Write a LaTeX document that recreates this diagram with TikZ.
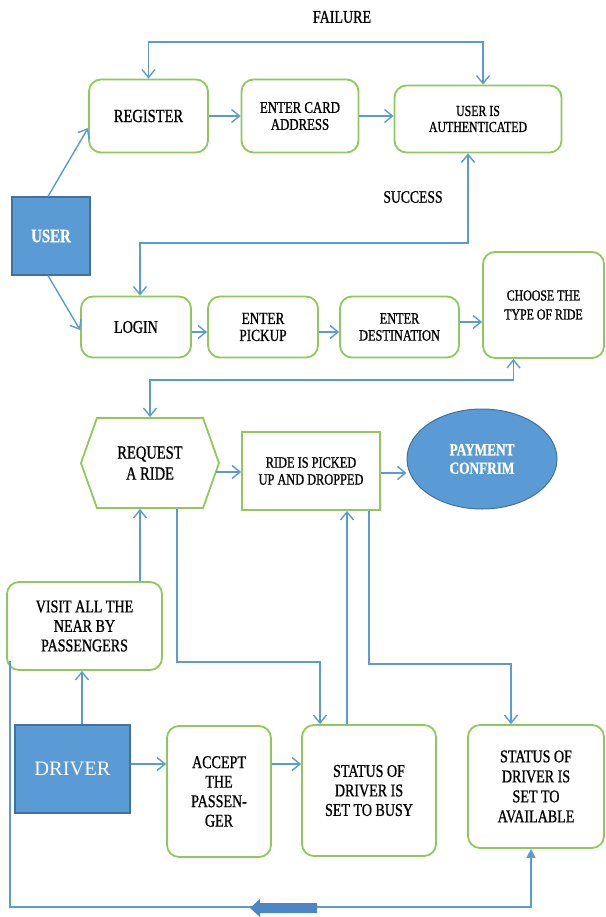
\documentclass[tikz,border=0pt]{standalone}
\usepackage{fontspec}
\setmainfont{Liberation Serif}[FakeStretch=0.78,FakeBold=0.9]
\newfontfamily\plainserif{Liberation Serif}
\usetikzlibrary{arrows.meta,calc,shapes.geometric,shapes.symbols}
\definecolor{lblue}{HTML}{5B9BD5}
\definecolor{dblue}{HTML}{41719C}
\definecolor{bgreen}{HTML}{8FC95A}
\definecolor{barrow}{HTML}{4A86C6}
\newcommand{\fsz}[2]{\fontsize{#1}{#2}\selectfont}
\begin{document}
\begin{tikzpicture}[x=1pt,y=-1pt,
  gbox/.style={draw=bgreen, line width=1.8pt, rounded corners=12pt, fill=white, align=center, inner sep=0pt, text=black},
  rbox/.style={draw=bgreen, line width=1.8pt, fill=white, align=center, inner sep=0pt, text=black},
  bbox/.style={draw=dblue, line width=1.2pt, fill=lblue, text=white, inner sep=0pt, align=center},
  lbl/.style={inner sep=0pt, text=black},
  conn/.style={draw=lblue, line width=1.4pt, -{Straight Barb[length=8pt,width=13pt,line width=1.4pt]}},
  conntwo/.style={draw=lblue, line width=1.4pt, {Straight Barb[length=8pt,width=13pt,line width=1.4pt]}-{Straight Barb[length=8pt,width=13pt,line width=1.4pt]}},
  loopline/.style={draw=lblue, line width=1.4pt, -{Triangle[length=9pt,width=9pt]}}
]
\useasboundingbox (0,0) rectangle (605,917);

% labels
\node[lbl, font=\fsz{18}{19}] (failure) at (342,17) {FAILURE};
\node[lbl, font=\fsz{17.5}{19}] (success) at (413,197) {SUCCESS};

% top row
\node[gbox, minimum width=119pt, minimum height=73pt, font=\fsz{18.6}{19}] (reg) at (148.5,116) {REGISTER};
\node[gbox, minimum width=117pt, minimum height=73pt, font=\fsz{16.4}{17}] (card) at (300,116) {ENTER CARD\\ADDRESS};
\node[gbox, minimum width=167pt, minimum height=67pt, font=\fsz{15.2}{16}] (auth) at (478,119) {USER IS\\AUTHENTICATED};

\node[bbox, minimum width=78pt, minimum height=78pt, font=\bfseries\fsz{19}{20}] (user) at (51,236) {USER};

% second row
\node[gbox, minimum width=110pt, minimum height=61pt, font=\fsz{18}{19}] (login) at (136,327) {LOGIN};
\node[gbox, minimum width=110pt, minimum height=61pt, font=\fsz{17}{17}] (pickup) at (263,327) {ENTER\\PICKUP};
\node[gbox, minimum width=119pt, minimum height=61pt, font=\fsz{15.8}{17}] (dest) at (399.5,327) {ENTER\\DESTINATION};
\node[gbox, minimum width=121pt, minimum height=106pt, font=\fsz{15.2}{19}] (choose) at (543.5,305) {CHOOSE THE\\TYPE OF RIDE};

% third row
\node[signal, signal to=east and west, signal pointer angle=141, draw=bgreen, line width=1.8pt, fill=white, align=center, inner sep=0pt, minimum width=138pt, minimum height=90pt, font=\fsz{18.6}{21}] (request) at (150,463) {REQUEST\\A RIDE};
\node[rbox, minimum width=138pt, minimum height=78pt, font=\fsz{15.8}{17}] (ride) at (311,471) {RIDE IS PICKED\\UP AND DROPPED};
\node[ellipse, draw=dblue, line width=1pt, fill=lblue, text=white, inner sep=0pt, align=center, minimum width=150pt, minimum height=100pt, font=\bfseries\fsz{17}{18.5}] (pay) at (482,459) {PAYMENT\\CONFRIM};

% driver part
\node[gbox, minimum width=155pt, minimum height=88pt, font=\fsz{18}{19.5}] (visit) at (84.5,626) {VISIT ALL THE\\NEAR BY\\PASSENGERS};
\node[bbox, minimum width=115pt, minimum height=88pt, font=\plainserif\fsz{20.5}{24}] (driver) at (72.5,769) {DRIVER};
\node[gbox, minimum width=104pt, minimum height=131pt, font=\fsz{18}{19.5}] (accept) at (219,791.5) {ACCEPT\\THE\\PASSEN-\\GER};
\node[gbox, minimum width=134pt, minimum height=131pt, font=\fsz{18}{19.5}] (busy) at (369,790.5) {STATUS OF\\DRIVER IS\\SET TO BUSY};
\node[gbox, minimum width=136pt, minimum height=123pt, font=\fsz{18}{20}] (avail) at (536,786.5) {STATUS OF\\DRIVER IS\\SET TO\\AVAILABLE};

% helper coordinates
\coordinate (yF) at (0,42);
\coordinate (yS) at (0,243);
\coordinate (yC) at (0,380);
\coordinate (yB) at (0,662);
\coordinate (yA) at (0,664);
\coordinate (yL) at (0,907);

% connectors top
\draw[conn] ($(user.north)+(-3,0)$) -- ($(reg.west)+(0,12)$);
\draw[conn] (reg.east) -- (card.west);
\draw[conn] (card.east) -- (card.east -| auth.west);
\coordinate (fa) at ($(auth.north)+(5,0)$);
\draw[conntwo] (reg.north) -- (reg.north |- yF) -| (fa);
\coordinate (sa) at ($(auth.south)+(-10,0)$);
\coordinate (sl) at ($(login.north)+(4,0)$);
\draw[conntwo] (sa) -- (sa |- yS) -| (sl);

% connectors second row
\draw[conn] ($(user.south)+(-3,0)$) -- ($(login.west)+(0,3)$);
\coordinate (lp) at ($(login.east)+(0,5)$);
\draw[conn] (lp) -- (lp -| pickup.west);
\coordinate (pd) at ($(pickup.east)+(0,5)$);
\draw[conn] (pd) -- (pd -| dest.west);
\coordinate (dc) at ($(dest.east)+(0,-5)$);
\draw[conn] (dc) -- (dc -| choose.west);
\coordinate (cr) at ($(choose.south)+(-30,0)$);
\draw[conntwo] (cr) -- (cr |- yC) -| (request.north);

% third row
\coordinate (rr) at ($(ride.west)+(-25,1)$);
\draw[conn] (rr) -- (rr -| ride.west);
\coordinate (rp) at ($(ride.east)+(0,2)$);
\draw[conn] (rp) -- (rp -| pay.west);

% vertical connections
\coordinate (vr) at ($(request.south)+(-10,0)$);
\draw[conn] (vr |- visit.north) -- (vr);
\coordinate (rb) at ($(request.south)+(27,0)$);
\coordinate (bt) at ($(busy.north)+(-49,0)$);
\draw[conn] (rb) -- (rb |- yB) -| (bt);
\coordinate (bu) at ($(busy.north)+(-22,0)$);
\draw[conn] (bu) -- (bu |- ride.south);
\coordinate (ra) at ($(ride.south)+(58,0)$);
\coordinate (at) at ($(avail.north)+(-25,0)$);
\draw[conn] (ra) -- (ra |- yA) -| (at);

% driver row
\coordinate (dv) at ($(driver.north)+(9.5,0)$);
\draw[conn] (dv) -- (dv |- visit.south);
\coordinate (da) at ($(driver.east)+(0,-5)$);
\draw[conn] (da) -- (da -| accept.west);
\draw[conn] (da -| accept.east) -- (da -| busy.west);

% bottom loop
\coordinate (ls) at ($(visit.south west)+(4,-10)$);
\coordinate (ae) at ($(avail.south)+(-5,0)$);
\draw[loopline] (ls) -- (ls |- yL) -| (ae);
\fill[barrow] (317,903) -- (260,903) -- (260,899) -- (250,908) -- (260,917) -- (260,913) -- (317,913) -- cycle;
\end{tikzpicture}
\end{document}
